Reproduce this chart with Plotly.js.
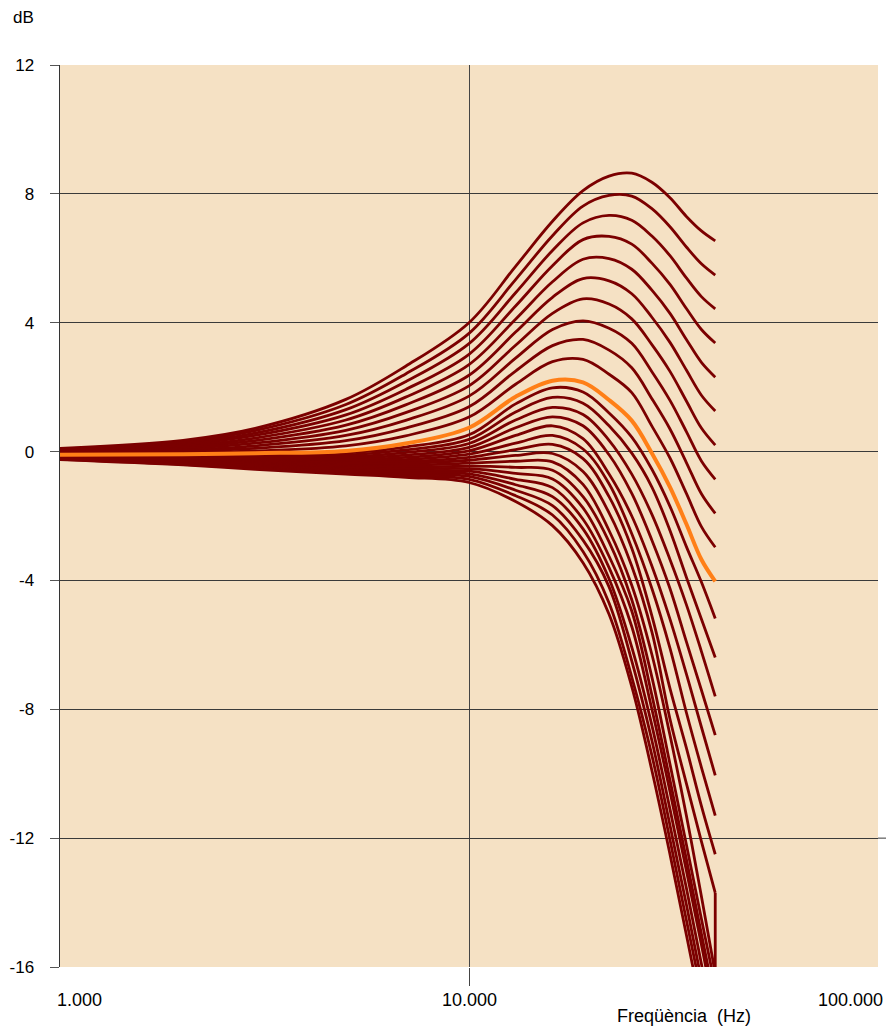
<!DOCTYPE html>
<html><head><meta charset="utf-8">
<script src="https://cdn.plot.ly/plotly-3.0.1.min.js"></script>
<style>html,body{margin:0;padding:0;background:#fff}#chart{width:886px;height:1026px}</style>
</head><body><div id="chart"></div><script>
// Frequencies (Hz) at which each response curve was read
const freqs = [1000, 2000, 3000, 5000, 7000, 10000, 13000, 16000, 19000, 22000, 25000, 28000, 31000, 34000, 37000, 40000];

// Gain (dB) of each curve, top to bottom
const c00 = [0.1, 0.35, 0.72, 1.62, 2.65, 4.0, 5.75, 7.15, 8.1, 8.55, 8.64, 8.36, 7.88, 7.3, 6.85, 6.54];
const c01 = [0.08, 0.31, 0.65, 1.46, 2.41, 3.67, 5.34, 6.7, 7.62, 7.95, 7.93, 7.54, 6.98, 6.35, 5.83, 5.48];
const c02 = [0.06, 0.26, 0.57, 1.3, 2.17, 3.35, 4.93, 6.24, 7.1, 7.33, 7.18, 6.69, 6.08, 5.39, 4.81, 4.43];
const c03 = [0.04, 0.22, 0.5, 1.14, 1.93, 3.02, 4.52, 5.77, 6.58, 6.68, 6.44, 5.85, 5.19, 4.44, 3.79, 3.37];
const c04 = [0.02, 0.18, 0.42, 0.98, 1.69, 2.7, 4.11, 5.27, 5.97, 5.99, 5.66, 5.01, 4.29, 3.48, 2.77, 2.31];
const c05 = [0.0, 0.14, 0.34, 0.82, 1.45, 2.37, 3.71, 4.79, 5.37, 5.3, 4.9, 4.17, 3.39, 2.53, 1.75, 1.26];
const c06 = [-0.02, 0.09, 0.26, 0.66, 1.21, 2.04, 3.3, 4.29, 4.74, 4.58, 4.12, 3.32, 2.49, 1.57, 0.73, 0.2];
const c07 = [-0.04, 0.05, 0.18, 0.5, 0.97, 1.72, 2.9, 3.79, 4.06, 3.83, 3.36, 2.48, 1.59, 0.62, -0.29, -0.86];
const c08 = [-0.06, 0.01, 0.1, 0.34, 0.73, 1.39, 2.5, 3.29, 3.48, 3.15, 2.6, 1.64, 0.7, -0.34, -1.31, -1.92];
const c09 = [-0.08, -0.04, 0.02, 0.18, 0.49, 1.07, 2.09, 2.79, 2.86, 2.4, 1.83, 0.79, -0.2, -1.3, -2.33, -2.97];
const nominal = [-0.1, -0.08, -0.05, 0.02, 0.25, 0.74, 1.7, 2.2, 2.15, 1.6, 0.96, -0.05, -1.1, -2.25, -3.35, -4.03];
const c11 = [-0.109, -0.10, -0.09, -0.05, 0.14, 0.52, 1.48, 1.98, 1.85, 1.2, 0.45, -0.55, -1.7, -2.95, -4.05, -5.18];
const c12 = [-0.119, -0.122, -0.13, -0.11, 0.05, 0.38, 1.23, 1.68, 1.5, 0.8, -0.05, -1.1, -2.45, -3.9, -5.2, -6.39];
const c13 = [-0.128, -0.143, -0.17, -0.16, -0.03, 0.25, 0.98, 1.37, 1.15, 0.35, -0.7, -1.95, -3.35, -4.75, -6.2, -7.6];
const c14 = [-0.138, -0.164, -0.2, -0.21, -0.11, 0.13, 0.74, 1.08, 0.8, -0.1, -1.3, -2.75, -4.25, -5.9, -7.4, -8.8];
const c15 = [-0.147, -0.185, -0.23, -0.26, -0.18, 0.02, 0.5, 0.8, 0.4, -0.7, -2.0, -3.55, -5.2, -6.9, -8.55, -10.05];
const c16 = [-0.156, -0.206, -0.26, -0.31, -0.25, -0.08, 0.26, 0.5, 0.08, -1.0, -2.55, -4.25, -6.1, -8.1, -9.8, -11.3];
const c17 = [-0.166, -0.227, -0.29, -0.35, -0.31, -0.18, 0.06, 0.22, -0.22, -1.4, -3.0, -5.1, -7.35, -9.2, -11.0, -12.5];
const c18 = [-0.175, -0.248, -0.32, -0.39, -0.37, -0.27, -0.12, -0.06, -0.62, -1.9, -3.55, -5.6, -8.3, -10.3, -12.1, -13.7];
const c19 = [-0.185, -0.269, -0.35, -0.43, -0.43, -0.36, -0.3, -0.32, -1.02, -2.45, -4.15, -6.3, -8.8, -11.3, -13.8, -16.2];
const c20 = [-0.194, -0.29, -0.38, -0.47, -0.49, -0.45, -0.49, -0.58, -1.4, -2.8, -4.6, -7.0, -9.7, -12.2, -14.5, -16.6];
const c21 = [-0.203, -0.311, -0.41, -0.51, -0.54, -0.53, -0.68, -0.85, -1.75, -3.25, -4.95, -7.56, -10.2, -12.65, -14.97, -17.1];
const c22 = [-0.213, -0.332, -0.44, -0.55, -0.6, -0.61, -0.86, -1.12, -2.1, -3.6, -5.43, -8.0, -10.55, -13.0, -15.3, -17.5];
const c23 = [-0.222, -0.353, -0.47, -0.59, -0.65, -0.69, -1.03, -1.4, -2.4, -3.95, -6.07, -8.5, -11.1, -13.55, -15.9, -18.1];
const c24 = [-0.231, -0.374, -0.5, -0.63, -0.7, -0.77, -1.2, -1.68, -2.75, -4.2, -6.5, -8.97, -11.6, -14.06, -16.4, -18.5];
const c25 = [-0.241, -0.395, -0.52, -0.67, -0.75, -0.86, -1.37, -1.97, -3.1, -4.7, -7.0, -9.43, -12.05, -14.54, -16.8, -18.9];
const c26 = [-0.25, -0.416, -0.55, -0.7, -0.8, -0.96, -1.55, -2.3, -3.45, -5.05, -7.3, -9.9, -12.5, -15.0, -17.3, -19.4];

// Vertical drop of curve 18 at its last frequency
const tailFreq = [40000, 40000];
const tailDb = [-13.7, -40];

const darkCurves = [c00, c01, c02, c03, c04, c05, c06, c07, c08, c09, c11, c12, c13, c14, c15, c16, c17, c18, c19, c20, c21, c22, c23, c24, c25, c26];

const xTickVals = [1000, 10000, 100000];
const xTickText = ['1.000', '10.000', '100.000'];
const yTickVals = [-16, -12, -8, -4, 0, 4, 8, 12];
const yTickText = ['-16', '-12', '-8', '-4', '0', '4', '8', '12'];

const DARK = '#7b0000';
const FONT = 'Liberation Sans, Arial, sans-serif';

const traces = darkCurves.map(v => ({
  x: freqs, y: v, type: 'scatter', mode: 'lines',
  line: {color: DARK, width: 2.8, shape: 'spline', smoothing: 1.0},
  hoverinfo: 'skip', showlegend: false
}));
traces.push({x: tailFreq, y: tailDb, type: 'scatter', mode: 'lines',
  line: {color: DARK, width: 2.8}, hoverinfo: 'skip', showlegend: false});
traces.push({x: freqs, y: nominal, type: 'scatter', mode: 'lines',
  line: {color: '#ff7f17', width: 4, shape: 'spline', smoothing: 1.0},
  hoverinfo: 'skip', showlegend: false});

const annotations = [
  {text: 'dB', xref: 'paper', yref: 'paper', x: -0.0452, y: 1.0525, showarrow: false,
   xanchor: 'center', yanchor: 'middle', font: {family: FONT, size: 17, color: '#000'}},
  {text: 'Freqüència  (Hz)', xref: 'paper', yref: 'paper', x: 0.763, y: -0.0545, showarrow: false,
   xanchor: 'center', yanchor: 'middle', font: {family: FONT, size: 18, color: '#000'}}
];
const labelX = [0.0244, 0.5, 0.966];
xTickText.forEach((t, i) => annotations.push({
  text: t, xref: 'paper', yref: 'paper', x: labelX[i], y: -0.0366, showarrow: false,
  xanchor: 'center', yanchor: 'middle', font: {family: FONT, size: 18, color: '#000'}
}));

const layout = {
  width: 886, height: 1026,
  margin: {l: 60, r: 8, t: 65, b: 59},
  paper_bgcolor: '#ffffff', plot_bgcolor: '#f5e1c4',
  showlegend: false,
  xaxis: {type: 'log', range: [3, 5], tickvals: [xTickVals[1]], showticklabels: false,
    ticks: 'outside', ticklen: 18, tickcolor: '#444', tickwidth: 1,
    showgrid: true, gridcolor: '#444', gridwidth: 1, zeroline: false, showline: false},
  yaxis: {range: [-16, 12], tickvals: yTickVals, ticktext: yTickText, ticks: 'outside', ticklen: 9,
    tickcolor: '#555', showgrid: true, gridcolor: '#3a3a3a', gridwidth: 1,
    showline: true, linecolor: '#333', linewidth: 1.5, zeroline: false,
    ticklabelstandoff: 12,
    tickfont: {family: FONT, size: 17, color: '#000'}},
  shapes: [
    {type: 'line', xref: 'paper', yref: 'y', x0: 1, x1: 1.0098, y0: -12, y1: -12,
     line: {color: '#3a3a3a', width: 1}}
  ],
  annotations: annotations
};

Plotly.newPlot('chart', traces, layout, {staticPlot: true, displayModeBar: false});
</script></body></html>
